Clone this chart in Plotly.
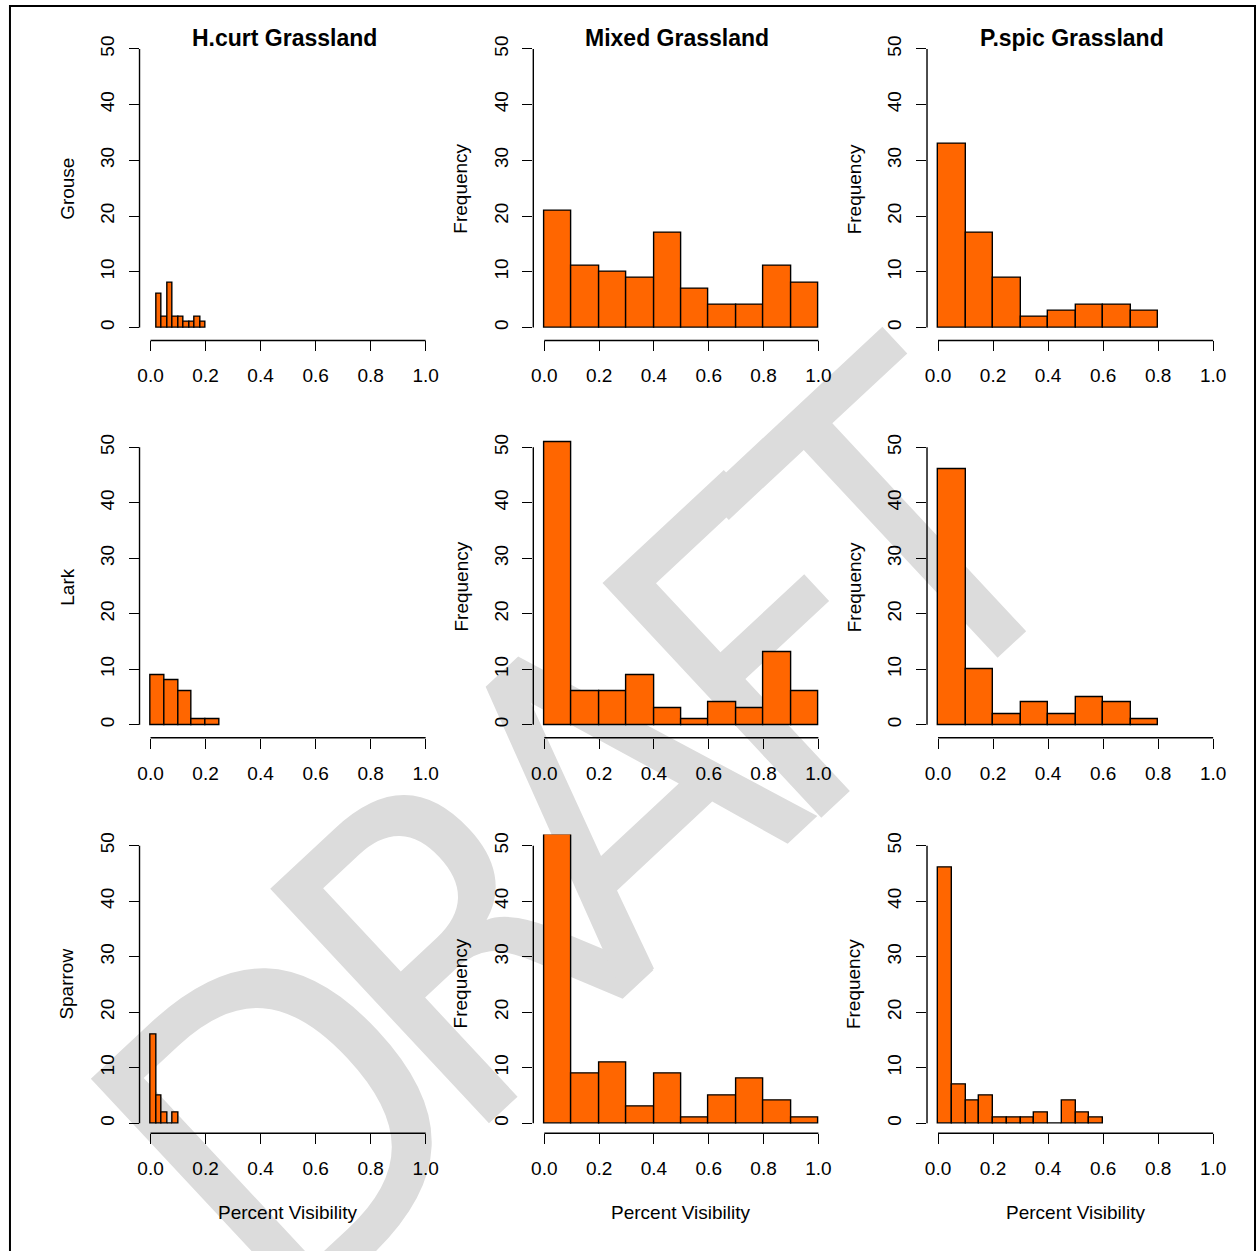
import plotly.graph_objects as go

W, H = 1259, 1251

# ---------------- data ----------------
panel_titles = ["H.curt Grassland", "Mixed Grassland", "P.spic Grassland"]
row_labels = ["Grouse", "Lark", "Sparrow"]
x_axis_label = "Percent Visibility"
y_axis_label = "Frequency"
x_tick_vals = [0.0, 0.2, 0.4, 0.6, 0.8, 1.0]
x_tick_text = ["0.0", "0.2", "0.4", "0.6", "0.8", "1.0"]
y_tick_vals = [0, 10, 20, 30, 40, 50]
y_tick_text = ["0", "10", "20", "30", "40", "50"]

# histogram bins: first break, bin width, counts
hcurt_grouse_start, hcurt_grouse_width = 0.02, 0.02
hcurt_grouse_counts = [6, 2, 8, 2, 2, 1, 1, 2, 1]
hcurt_lark_start, hcurt_lark_width = 0.0, 0.05
hcurt_lark_counts = [9, 8, 6, 1, 1]
hcurt_sparrow_start, hcurt_sparrow_width = 0.0, 0.02
hcurt_sparrow_counts = [16, 5, 2, 0, 2]

mixed_grouse_start, mixed_grouse_width = 0.0, 0.1
mixed_grouse_counts = [21, 11, 10, 9, 17, 7, 4, 4, 11, 8]
mixed_lark_start, mixed_lark_width = 0.0, 0.1
mixed_lark_counts = [51, 6, 6, 9, 3, 1, 4, 3, 13, 6]
mixed_sparrow_start, mixed_sparrow_width = 0.0, 0.1
mixed_sparrow_counts = [52, 9, 11, 3, 9, 1, 5, 8, 4, 1]

pspic_grouse_start, pspic_grouse_width = 0.0, 0.1
pspic_grouse_counts = [33, 17, 9, 2, 3, 4, 4, 3]
pspic_lark_start, pspic_lark_width = 0.0, 0.1
pspic_lark_counts = [46, 10, 2, 4, 2, 5, 4, 1]
pspic_sparrow_start, pspic_sparrow_width = 0.0, 0.05
pspic_sparrow_counts = [46, 7, 4, 5, 1, 1, 1, 2, 0, 4, 2, 1]

watermark_letters = ["D", "R", "A", "F", "T"]

panels = [
    [(hcurt_grouse_start, hcurt_grouse_width, hcurt_grouse_counts),
     (mixed_grouse_start, mixed_grouse_width, mixed_grouse_counts),
     (pspic_grouse_start, pspic_grouse_width, pspic_grouse_counts)],
    [(hcurt_lark_start, hcurt_lark_width, hcurt_lark_counts),
     (mixed_lark_start, mixed_lark_width, mixed_lark_counts),
     (pspic_lark_start, pspic_lark_width, pspic_lark_counts)],
    [(hcurt_sparrow_start, hcurt_sparrow_width, hcurt_sparrow_counts),
     (mixed_sparrow_start, mixed_sparrow_width, mixed_sparrow_counts),
     (pspic_sparrow_start, pspic_sparrow_width, pspic_sparrow_counts)],
]

# ---------------- layout geometry (pixels) ----------------
col_zero_px = [149, 544, 939]
col_ppu = [276, 275, 276]
row_zero_px = [326, 724, 1123]
row_fifty_px = [47, 446, 845]
row_axis_px = [339, 737, 1133]

FONT = "Liberation Sans, Arial, sans-serif"
ORANGE = "#FF6600"
LW = 1.4

fig = go.Figure()
layout = dict(
    width=W, height=H, margin=dict(l=0, r=0, t=0, b=0),
    paper_bgcolor="white", plot_bgcolor="rgba(0,0,0,0)",
    showlegend=False, bargap=0,
)
shapes = []
annotations = []


def px_x(p):
    return p / W


def px_y(p):
    return 1 - p / H


# watermark (below everything)
wm_centers = [(266, 1101), (435, 921), (595, 771), (751, 631), (887, 509)]
for letter, (cx, cy) in zip(watermark_letters, wm_centers):
    shapes.append(dict(
        type="rect", xref="paper", yref="paper", layer="below",
        x0=px_x(cx - 5), x1=px_x(cx + 5), y0=px_y(cy + 5), y1=px_y(cy - 5),
        line=dict(width=0), fillcolor="rgba(0,0,0,0)",
        label=dict(text=letter, textangle=-43, textposition="middle center",
                   font=dict(family="Liberation Sans Narrow, DejaVu Sans Condensed, Liberation Sans",
                             size=440, color="#DCDCDC")),
    ))

for r in range(3):
    for c in range(3):
        k = r * 3 + c + 1
        sfx = "" if k == 1 else str(k)
        start, width, counts = panels[r][c]
        centers = [start + (i + 0.5) * width for i in range(len(counts))]
        fig.add_trace(go.Bar(
            x=centers, y=counts, width=[width] * len(counts),
            marker=dict(color=ORANGE, line=dict(color="black", width=LW)),
            xaxis="x" + sfx, yaxis="y" + sfx, hoverinfo="skip",
        ))
        x0p, ppu = col_zero_px[c], col_ppu[c]
        y0p, y50p, yaxp = row_zero_px[r], row_fifty_px[r], row_axis_px[r]
        ppuy = (y0p - y50p) / 50.0
        top_px = y50p - 2 * ppuy
        layout["xaxis" + sfx] = dict(
            domain=[px_x(x0p - 0.04 * ppu), px_x(x0p + 1.04 * ppu)],
            range=[-0.04, 1.04], anchor="y" + sfx,
            tickmode="array", tickvals=x_tick_vals, ticktext=x_tick_text,
            ticks="outside", ticklen=10, tickwidth=LW, tickcolor="black",
            showline=False, showgrid=False, zeroline=False,
            tickfont=dict(family=FONT, size=19, color="black"),
            ticklabelstandoff=8,
        )
        layout["yaxis" + sfx] = dict(
            domain=[px_y(yaxp), px_y(top_px)],
            range=[-(yaxp - y0p) / ppuy, 52], anchor="x" + sfx,
            tickmode="array", tickvals=y_tick_vals, ticktext=y_tick_text,
            ticks="outside", ticklen=10, tickwidth=LW, tickcolor="black",
            tickangle=-90,
            showline=False, showgrid=False, zeroline=False,
            tickfont=dict(family=FONT, size=19, color="black"),
            ticklabelstandoff=7,
        )
        # R-style axis lines spanning only the tick range
        shapes.append(dict(type="line", xref="x" + sfx, yref="y" + sfx + " domain",
                           x0=x_tick_vals[0], x1=x_tick_vals[-1], y0=0, y1=0,
                           line=dict(color="black", width=LW)))
        shapes.append(dict(type="line", xref="x" + sfx + " domain", yref="y" + sfx,
                           x0=0, x1=0, y0=y_tick_vals[0], y1=y_tick_vals[-1],
                           line=dict(color="black", width=LW)))
        # y axis title
        ytxt = row_labels[r] if c == 0 else y_axis_label
        annotations.append(dict(
            text=ytxt, xref="paper", yref="paper",
            x=px_x(x0p - 0.04 * ppu - 73), y=px_y((yaxp + top_px) / 2),
            showarrow=False, textangle=-90, xanchor="center", yanchor="middle",
            font=dict(family=FONT, size=19, color="black"),
        ))
        if r == 0:
            annotations.append(dict(
                text="<b>" + panel_titles[c] + "</b>", xref="paper", yref="paper",
                x=px_x(x0p + 0.5 * ppu - 4), y=px_y(36),
                showarrow=False, xanchor="center", yanchor="middle",
                font=dict(family=FONT, size=23, color="black"),
            ))
        if r == 2:
            annotations.append(dict(
                text=x_axis_label, xref="paper", yref="paper",
                x=px_x(x0p + 0.5 * ppu), y=px_y(1212),
                showarrow=False, xanchor="center", yanchor="middle",
                font=dict(family=FONT, size=19, color="black"),
            ))

# outer frame
shapes.append(dict(type="rect", xref="paper", yref="paper",
                   x0=px_x(8), x1=px_x(1257), y0=-0.05, y1=px_y(4),
                   line=dict(color="black", width=2), fillcolor="rgba(0,0,0,0)"))

layout["shapes"] = shapes
layout["annotations"] = annotations
fig.update_layout(**layout)
fig.write_html("out.html", config={"displayModeBar": False},
               post_script="document.body.style.margin='0';")
